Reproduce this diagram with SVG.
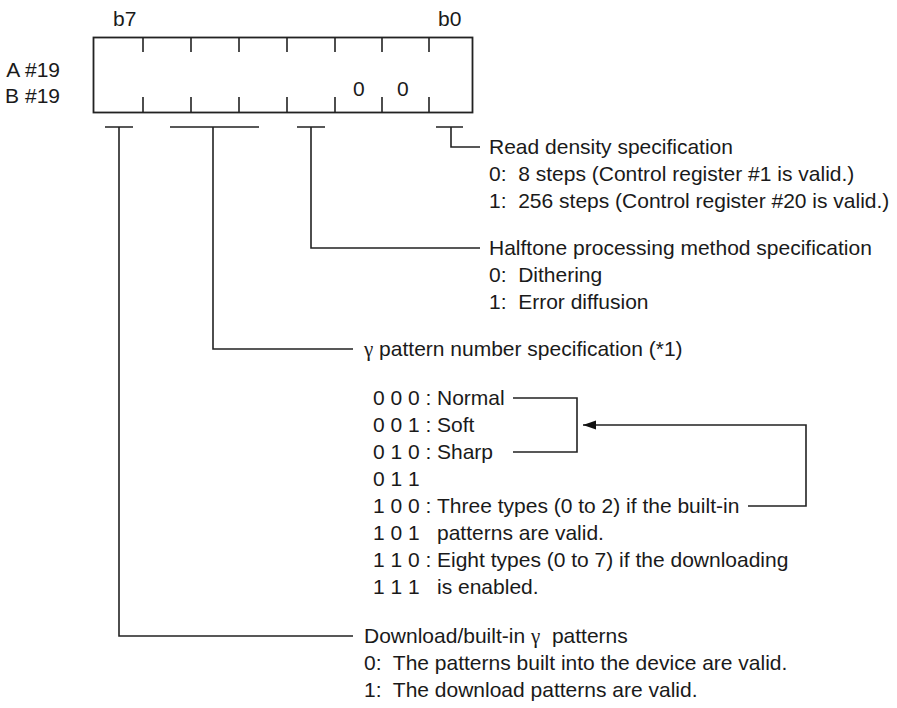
<svg xmlns="http://www.w3.org/2000/svg" width="897" height="708" viewBox="0 0 897 708">
<style>
text{font-family:"Liberation Sans",Arial,sans-serif;font-size:21px;fill:#1a1a1a}
.g{font-family:"Liberation Serif","Times New Roman",serif}
.ln{fill:none;stroke:#222;stroke-width:1.6}
.bx{fill:#fff;stroke:#222;stroke-width:1.8}
</style>
<defs>
<marker id="ah" markerWidth="14" markerHeight="10" refX="13" refY="5" orient="auto" markerUnits="userSpaceOnUse">
<path d="M0,0.5 L13,5 L0,9.5 Z" fill="#111"/>
</marker>
</defs>
<rect width="897" height="708" fill="#fff"/>
<g id="register">
<rect class="bx" x="93.5" y="37.5" width="379" height="75"/>
<path class="ln" d="M143,37.5V52 M191,37.5V52 M239,37.5V52 M287,37.5V52 M335,37.5V52 M382,37.5V52 M429,37.5V52 M143,112.5V97 M191,112.5V97 M239,112.5V97 M287,112.5V97 M335,112.5V97 M382,112.5V97 M429,112.5V97"/>
<text x="113" y="26">b7</text>
<text x="438" y="26">b0</text>
<text x="60" y="77" text-anchor="end">A #19</text>
<text x="60" y="103" text-anchor="end">B #19</text>
<text x="353" y="96">0</text>
<text x="397" y="96">0</text>
</g>
<g id="connectors">
<path class="ln" d="M105,127H133 M119,127V636H353"/>
<path class="ln" d="M170,127H259 M213,127V349H353"/>
<path class="ln" d="M297,127H325 M311,127V248H480"/>
<path class="ln" d="M436,127H463 M451,127V147H480"/>
<path class="ln" d="M513,398H577V452H513"/>
<path class="ln" d="M748,506H806V425H583" marker-end="url(#ah)"/>
</g>
<g id="read-density">
<text x="489" y="154">Read density specification</text>
<text x="489" y="181" xml:space="preserve">0:  8 steps (Control register #1 is valid.)</text>
<text x="489" y="208" xml:space="preserve">1:  256 steps (Control register #20 is valid.)</text>
</g>
<g id="halftone">
<text x="489" y="255">Halftone processing method specification</text>
<text x="489" y="282" xml:space="preserve">0:  Dithering</text>
<text x="489" y="309" xml:space="preserve">1:  Error diffusion</text>
</g>
<g id="gamma-number">
<text x="364" y="356"><tspan class="g">γ</tspan> pattern number specification (*1)</text>
<text x="373" y="405" xml:space="preserve">0 0 0 :</text><text x="437" y="405">Normal</text>
<text x="373" y="432" xml:space="preserve">0 0 1 :</text><text x="437" y="432">Soft</text>
<text x="373" y="459" xml:space="preserve">0 1 0 :</text><text x="437" y="459">Sharp</text>
<text x="373" y="486" xml:space="preserve">0 1 1</text>
<text x="373" y="513" xml:space="preserve">1 0 0 :</text><text x="437" y="513">Three types (0 to 2) if the built-in</text>
<text x="373" y="540" xml:space="preserve">1 0 1</text><text x="437" y="540">patterns are valid.</text>
<text x="373" y="567" xml:space="preserve">1 1 0 :</text><text x="437" y="567">Eight types (0 to 7) if the downloading</text>
<text x="373" y="594" xml:space="preserve">1 1 1</text><text x="437" y="594">is enabled.</text>
</g>
<g id="download">
<text x="364" y="643" xml:space="preserve">Download/built-in <tspan class="g">γ</tspan>  patterns</text>
<text x="364" y="670" xml:space="preserve">0:  The patterns built into the device are valid.</text>
<text x="364" y="697" xml:space="preserve">1:  The download patterns are valid.</text>
</g>
</svg>
